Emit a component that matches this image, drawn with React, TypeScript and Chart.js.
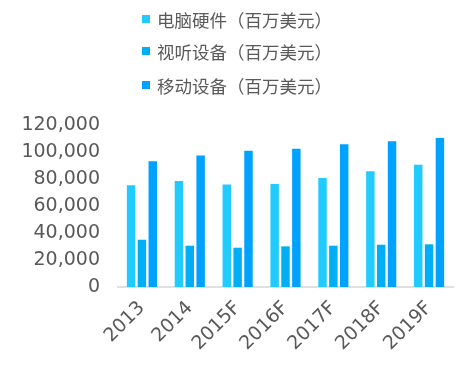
import React, { useEffect, useRef } from "react";
import { Chart, registerables } from "chart.js";

Chart.register(...registerables);

const categories = ["2013", "2014", "2015F", "2016F", "2017F", "2018F", "2019F"];
const seriesNames = ["电脑硬件（百万美元）", "视听设备（百万美元）", "移动设备（百万美元）"];
const pcHardware = [75300, 78500, 76000, 76300, 80700, 85700, 90600];
const avDevices = [35000, 30600, 29100, 30100, 30600, 31300, 31600];
const mobileDevices = [93100, 97500, 101000, 102400, 105700, 107900, 110400];
const yTicks = [0, 20000, 40000, 60000, 80000, 100000, 120000];

const colors = ["#22cbff", "#00aef5", "#00a2ff"];

const legendPlugin = {
  id: "stackedLegend",
  afterDraw(chart: any) {
    const ctx = chart.ctx;
    const rows = [11, 43, 77];
    ctx.save();
    ctx.font = '17.5px "Noto Sans CJK SC", "DejaVu Sans", sans-serif';
    ctx.textBaseline = "middle";
    ctx.textAlign = "left";
    chart.data.datasets.forEach((ds: any, i: number) => {
      const y = rows[i];
      ctx.fillStyle = ds.backgroundColor;
      ctx.fillRect(134, y - 4, 8, 8);
      ctx.fillStyle = "#595959";
      ctx.fillText(ds.label, 149, y + 1);
    });
    ctx.restore();
  },
};

export default function App() {
  const ref = useRef<HTMLCanvasElement | null>(null);
  useEffect(() => {
    if (!ref.current) return;
    const chart = new Chart(ref.current, {
      type: "bar",
      data: {
        labels: categories,
        datasets: [pcHardware, avDevices, mobileDevices].map((d, i) => ({
          label: seriesNames[i],
          data: d,
          backgroundColor: colors[i],
          borderWidth: 0,
          categoryPercentage: 0.68,
          barPercentage: 0.78,
        })),
      },
      options: {
        animation: false,
        responsive: true,
        maintainAspectRatio: false,
        layout: { padding: { top: 117, right: 13, left: 0, bottom: 0 } },
        plugins: { legend: { display: false }, tooltip: { enabled: false } },
        scales: {
          x: {
            grid: { display: false, drawTicks: false },
            border: { display: true, color: "#e0e0e0", width: 2 },
            ticks: {
              color: "#595959",
              font: { family: '"DejaVu Sans", sans-serif', size: 19 },
              maxRotation: 45,
              minRotation: 45,
              padding: 10,
            },
            afterFit: (scale: any) => {
              scale.height = 70;
            },
          },
          y: {
            min: 0,
            max: 120000,
            grid: { display: false, drawTicks: false },
            border: { display: false },
            afterBuildTicks: (scale: any) => {
              scale.ticks = yTicks.map((v) => ({ value: v }));
            },
            ticks: {
              color: "#595959",
              font: { family: '"DejaVu Sans", sans-serif', size: 19 },
              padding: 18,
              callback: (v: any) => Number(v).toLocaleString("en-US"),
            },
            afterFit: (scale: any) => {
              scale.width = 110;
            },
          },
        },
      },
      plugins: [legendPlugin],
    });
    return () => chart.destroy();
  }, []);
  return (
    <div style={{ width: 458, height: 349, position: "relative" }}>
      <canvas ref={ref} />
    </div>
  );
}
